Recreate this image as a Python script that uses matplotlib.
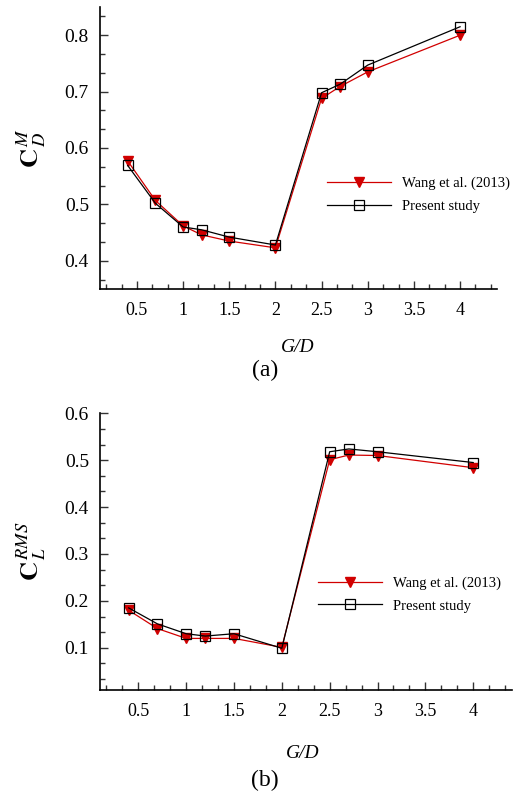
import matplotlib
matplotlib.use("Agg")
import matplotlib.pyplot as plt
from matplotlib.ticker import MultipleLocator

plt.rcParams['font.family'] = ['Liberation Serif', 'DejaVu Serif']
plt.rcParams['mathtext.fontset'] = 'stix'

gd = [0.4, 0.7, 1.0, 1.2, 1.5, 2.0, 2.5, 2.7, 3.0, 4.0]

cdm_wang = [0.577, 0.507, 0.462, 0.446, 0.435, 0.423, 0.688, 0.709, 0.735, 0.800]
cdm_present = [0.569, 0.502, 0.460, 0.455, 0.442, 0.428, 0.698, 0.713, 0.747, 0.815]

clrms_wang = [0.180, 0.141, 0.120, 0.120, 0.120, 0.101, 0.501, 0.511, 0.510, 0.484]
clrms_present = [0.185, 0.151, 0.130, 0.125, 0.130, 0.099, 0.518, 0.524, 0.518, 0.495]

xticks = [0.5, 1, 1.5, 2, 2.5, 3, 3.5, 4]
xticklabels = ['0.5', '1', '1.5', '2', '2.5', '3', '3.5', '4']
yticks_a = [0.4, 0.5, 0.6, 0.7, 0.8]
yticks_b = [0.1, 0.2, 0.3, 0.4, 0.5, 0.6]

W, H = 515, 793
fig = plt.figure(figsize=(W / 100, H / 100), dpi=100)

RED = '#d10000'
LEG_FS = 10.5
LEG_PX = LEG_FS * 100 / 72


def make_axes(l, t, r, b):
    return fig.add_axes([l / W, 1 - b / H, (r - l) / W, (b - t) / H])


def style(ax, yticks, ylim):
    ax.set_xlim(0.1, 4.4)
    ax.set_ylim(*ylim)
    for s in ['top', 'right']:
        ax.spines[s].set_visible(False)
    for s in ['left', 'bottom']:
        ax.spines[s].set_linewidth(1.2)
    ax.set_xticks(xticks)
    ax.set_xticklabels(xticklabels)
    ax.set_yticks(yticks)
    ax.set_yticklabels(['%.1f' % v for v in yticks])
    ax.xaxis.set_minor_locator(MultipleLocator(0.5 / 3))
    ax.yaxis.set_minor_locator(MultipleLocator(0.1 / 3))
    ax.tick_params(which='both', direction='in', width=1.0, color='#333333')
    ax.tick_params(which='major', length=6)
    ax.tick_params(which='minor', length=3.5)
    ax.tick_params(axis='x', which='major', labelsize=13, pad=9)
    ax.tick_params(axis='y', which='major', labelsize=14, pad=8)


def draw(ax, wang, present, legend_xy):
    l1, = ax.plot(gd, wang, color=RED, lw=0.9, marker='v', ms=7,
                  mfc=RED, mec=RED, label='Wang et al. (2013)', zorder=3)
    l2, = ax.plot(gd, present, color='black', lw=0.9, marker='s', ms=7.5,
                  mfc='none', mec='black', mew=0.9, label='Present study', zorder=4)
    ax.legend(handles=[l1, l2], loc='center left',
              bbox_to_anchor=(legend_xy[0] / W, 1 - legend_xy[1] / H),
              bbox_transform=fig.transFigure, frameon=False, fontsize=LEG_FS,
              borderpad=0, borderaxespad=0, handlelength=64 / LEG_PX,
              handletextpad=11 / LEG_PX, labelspacing=(24 - LEG_PX) / LEG_PX)


ax1 = make_axes(100, 7, 497, 289)
style(ax1, yticks_a, (0.35, 0.85))
draw(ax1, cdm_wang, cdm_present, (327, 195))

ax2 = make_axes(100, 413.3, 511.5, 690)
style(ax2, yticks_b, (0.01, 0.6))
draw(ax2, clrms_wang, clrms_present, (318, 594.5))

fig.text(31 / W, 1 - 148 / H, r'$\mathbf{C}_{\,D}^{\,M}$', rotation=90,
         ha='center', va='center', fontsize=19)
fig.text(31 / W, 1 - 551 / H, r'$\mathbf{C}_{\,L}^{\,RMS}$', rotation=90,
         ha='center', va='center', fontsize=19)

fig.text(298 / W, 1 - 348 / H, 'G/D', style='italic', ha='center', va='center', fontsize=14)
fig.text(303 / W, 1 - 753 / H, 'G/D', style='italic', ha='center', va='center', fontsize=14)
fig.text(265 / W, 1 - 370 / H, '(a)', ha='center', va='center', fontsize=17)
fig.text(265 / W, 1 - 780 / H, '(b)', ha='center', va='center', fontsize=17)

fig.savefig('out.png', dpi=100)
